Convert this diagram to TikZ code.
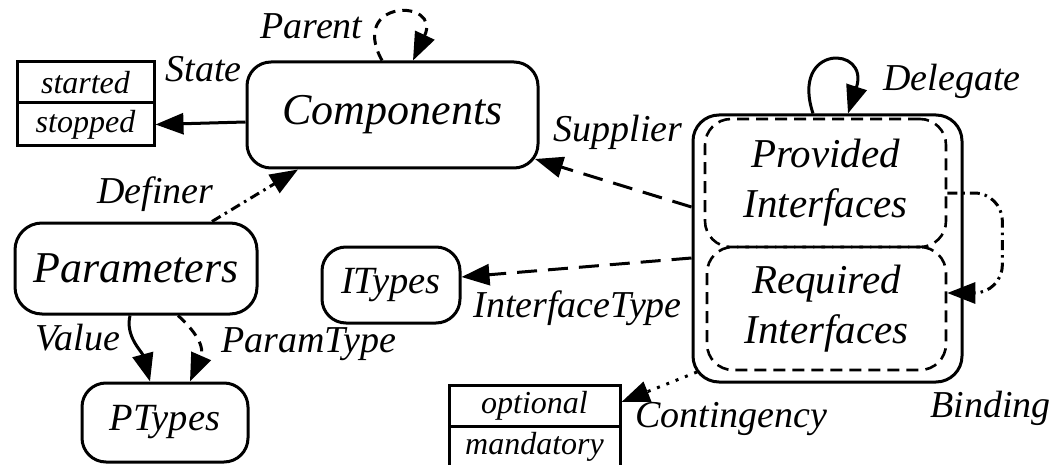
\documentclass[tikz,border=0pt]{standalone}
\usepackage{fontspec}
\setmainfont{Liberation Serif}
\usetikzlibrary{arrows.meta}

\begin{document}
\begin{tikzpicture}[x=1pt,y=-1pt,
  line width=3pt,
  box/.style={draw, rounded corners=24pt, inner sep=0pt, line width=3pt},
  inbox/.style={draw, dash pattern=on 12pt off 7pt, rounded corners=26pt, inner sep=0pt,
    line width=2.6pt, align=center, font=\fontsize{41}{50}\selectfont\itshape},
  cell/.style={draw, inner sep=0pt, line width=3pt, font=\fontsize{32}{32}\selectfont\itshape},
  bigtext/.style={font=\fontsize{44}{44}\selectfont\itshape},
  midtext/.style={font=\fontsize{38.5}{38.5}\selectfont\itshape},
  lbl/.style={font=\fontsize{38}{38}\selectfont\itshape, inner sep=0pt, anchor=base west},
  tip/.style={-{Triangle[length=28pt,width=21pt]}},
  longdash/.style={dash pattern=on 20pt off 11pt},
  shortdash/.style={dash pattern=on 10pt off 7pt},
  dashdot/.style={dash pattern=on 10pt off 5pt on 2.5pt off 5pt},
  dotline/.style={dash pattern=on 3pt off 7pt}
]
\clip (0,0) rectangle (1051,465);

% main entities
\node[box, bigtext, minimum width=291pt, minimum height=106pt] (comp) at (392.5,115) {Components};
\node[box, bigtext, rounded corners=27pt, minimum width=242pt, minimum height=91pt] (params) at (136,268.5) {Parameters};
\node[box, midtext, minimum width=166pt, minimum height=79pt] (ptypes) at (165,422.5) {PTypes};
\node[box, midtext, minimum width=138pt, minimum height=76pt] (itypes) at (391,285) {ITypes};

% interface container with its two parts
\node[box, rounded corners=26pt, minimum width=269pt, minimum height=267pt] (iface) at (827.5,248.5) {};
\node[inbox, minimum width=241pt, minimum height=128pt] (prov) at (825.5,183) {Provided\\Interfaces};
\node[inbox, minimum width=239pt, minimum height=123pt] (req) at (826.5,308.5) {Required\\Interfaces};

% enumeration tables
\node[cell, minimum width=137pt, minimum height=41pt] (started) at (85.5,82.5) {started};
\node[cell, minimum width=137pt, minimum height=43pt] (stopped) at (85.5,124.5) {stopped};
\node[cell, minimum width=171pt, minimum height=41pt] (optional) at (534.5,405.5) {optional};
\node[cell, minimum width=171pt, minimum height=41pt] (mandatory) at (534.5,446.5) {mandatory};

% relations
\draw[tip] ([yshift=-7pt]comp.west) -- (stopped.east);
\draw[tip, shortdash] ([xshift=-10.5pt]comp.north) .. controls +(-34,-62) and +(29,-62) .. ([xshift=20.5pt]comp.north);
\draw[tip, dashdot] ([xshift=76pt]params.north) -- ([xshift=-94.5pt]comp.south);
\draw[tip, longdash] ([yshift=41.5pt]iface.west) -- ([xshift=-4.5pt,yshift=10.5pt]comp.south east);
\draw[tip, longdash] ([yshift=-9.5pt]iface.west) -- ([yshift=8pt]itypes.east);
\draw[tip] ([xshift=-14.5pt]iface.north) .. controls +(-23,-70) and +(22,-68) .. ([xshift=20.5pt]iface.north);
\draw[tip, dashdot, rounded corners=28pt] ([yshift=-10pt]prov.east) -- ++(55,0) |- ([yshift=15.5pt]req.east);
\draw[tip, dotline] ([xshift=5.5pt,yshift=11.5pt]iface.south west) -- ([yshift=3.5pt]optional.east);
\draw[tip] ([xshift=-6pt]params.south) .. controls +(-5,21) and +(-8,-30) .. ([xshift=-15pt]ptypes.north);
\draw[tip, shortdash] ([xshift=42pt]params.south) .. controls +(22,20) and +(14,-32) .. ([xshift=25pt]ptypes.north);

% relation names
\node[lbl] (lparent) at (259,39) {Parent};
\node[lbl] (lstate) at (164,82) {State};
\node[lbl] (ldefiner) at (96,203) {Definer};
\node[lbl] (lsupplier) at (552,142) {Supplier};
\node[lbl] (ldelegate) at (882,91) {Delegate};
\node[lbl] (linterface) at (472,317) {InterfaceType};
\node[lbl] (lvalue) at (34,350) {Value};
\node[lbl] (lparam) at (220,352) {ParamType};
\node[lbl] (lcont) at (634,427) {Contingency};
\node[lbl] (lbinding) at (929,417) {Binding};
\end{tikzpicture}
\end{document}
